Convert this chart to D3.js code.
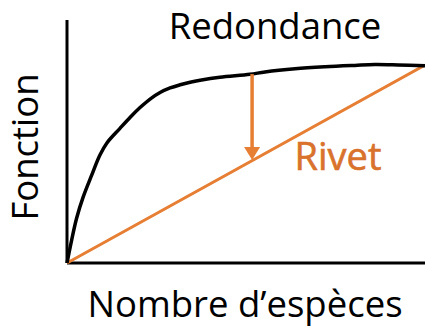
<!DOCTYPE html>
<html>
<head>
<meta charset="utf-8">
<script src="https://cdn.jsdelivr.net/npm/d3@7"></script>
<style>
  body { margin: 0; background: #fff; }
  svg { display: block; }
  text { font-family: "Open Sans", sans-serif; }
</style>
</head>
<body>
<script>
//species richness (x) and ecosystem function (y), in percent of max
var redondanceX = [0, 1.3, 2.7, 4.55, 6.9, 9.2, 11.1, 14.8, 17.6, 20.4, 23.2, 26.0, 28.8, 31.6, 34.4, 37.2, 42.7, 51.1, 55.3, 63.7, 72.1, 80.4, 86.0, 92.5, 100],
    redondanceY = [0, 11.6, 22.7, 33.5, 44.4, 54.5, 60.5, 68.0, 73.5, 78.5, 82.8, 86.1, 88.4, 90.0, 91.3, 92.3, 93.8, 95.3, 96.5, 98.1, 99.1, 99.8, 100.2, 100.0, 99.6];
var rivetX = [0, 100],
    rivetY = [0, 100];
//arrow from the curve down to the line
var arrowX = 51.7,
    arrowFrom = 95.4,
    arrowTo = 52;

var width = 425,
    height = 327;

var svg = d3.select("body")
    .append("svg")
    .attr("width", width)
    .attr("height", height);

var x = d3.scaleLinear().domain([0, 100]).range([67, 425]);
var y = d3.scaleLinear().domain([0, 100]).range([263, 65]);

var orange = "#e67e33";

//axes: plain lines, no ticks
svg.append("line")
    .attr("x1", x(0)).attr("x2", x(0))
    .attr("y1", 20).attr("y2", y(0))
    .attr("stroke", "#000").attr("stroke-width", 3);
svg.append("line")
    .attr("x1", x(0)).attr("x2", width)
    .attr("y1", y(0)).attr("y2", y(0))
    .attr("stroke", "#000").attr("stroke-width", 3);

var line = d3.line()
    .x(function(d){ return x(d[0]); })
    .y(function(d){ return y(d[1]); });

svg.append("path")
    .datum(d3.zip(rivetX, rivetY))
    .attr("d", line)
    .attr("fill", "none")
    .attr("stroke", orange)
    .attr("stroke-width", 3);

svg.append("path")
    .datum(d3.zip(redondanceX, redondanceY))
    .attr("d", line.curve(d3.curveCatmullRom.alpha(0.5)))
    .attr("fill", "none")
    .attr("stroke", "#000")
    .attr("stroke-width", 3.5);

//arrow
var headH = 13, headW = 8;
svg.append("line")
    .attr("x1", x(arrowX)).attr("x2", x(arrowX))
    .attr("y1", y(arrowFrom)).attr("y2", y(arrowTo) - headH + 1)
    .attr("stroke", orange).attr("stroke-width", 3.5);
svg.append("path")
    .attr("d", "M" + (x(arrowX) - headW) + "," + (y(arrowTo) - headH) +
               "L" + (x(arrowX) + headW) + "," + (y(arrowTo) - headH) +
               "L" + x(arrowX) + "," + y(arrowTo) + "Z")
    .attr("fill", orange);

//labels
svg.append("text")
    .attr("x", 275).attr("y", 39)
    .attr("text-anchor", "middle")
    .attr("font-size", 36.5)
    .text("Redondance");

svg.append("text")
    .attr("x", 338).attr("y", 170)
    .attr("text-anchor", "middle")
    .attr("font-size", 38)
    .attr("fill", "#d9722c")
    .attr("stroke", "#d9722c")
    .attr("stroke-width", 0.6)
    .text("Rivet");

svg.append("text")
    .attr("x", 245).attr("y", 317)
    .attr("text-anchor", "middle")
    .attr("font-size", 36.5)
    .text("Nombre d\u2019espèces");

svg.append("text")
    .attr("transform", "translate(38,147) rotate(-90)")
    .attr("text-anchor", "middle")
    .attr("font-size", 36.5)
    .text("Fonction");
</script>
</body>
</html>
